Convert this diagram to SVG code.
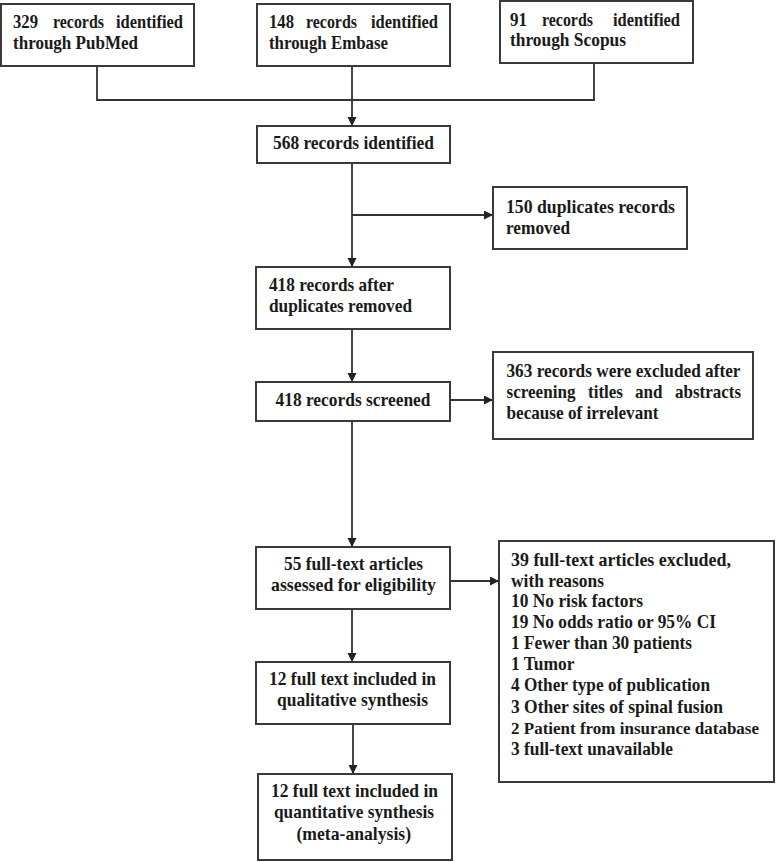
<svg xmlns="http://www.w3.org/2000/svg" width="777" height="862" viewBox="0 0 777 862">
<style>
.box{fill:#fff;stroke:#3a3a3a;stroke-width:2}
.t{font-family:"Liberation Serif","Times New Roman",serif;font-weight:bold;font-size:19px;fill:#1a1a1a}
.ln{fill:none;stroke:#333;stroke-width:1.8}
</style>
<defs>
<marker id="ah" markerUnits="userSpaceOnUse" markerWidth="10" markerHeight="10" refX="9" refY="4.5" orient="auto">
<path d="M0,0 L9,4.5 L0,9 z" fill="#222"/>
</marker>
</defs>
<rect width="777" height="862" fill="#fff"/>
<g id="connectors">
<path class="ln" d="M97,66 V100 H594 V63"/>
<path class="ln" d="M352,66 V126" marker-end="url(#ah)"/>
<path class="ln" d="M352,163 V267" marker-end="url(#ah)"/>
<path class="ln" d="M352,215 H493" marker-end="url(#ah)"/>
<path class="ln" d="M352,329 V382" marker-end="url(#ah)"/>
<path class="ln" d="M450,400 H493" marker-end="url(#ah)"/>
<path class="ln" d="M352,421 V547" marker-end="url(#ah)"/>
<path class="ln" d="M450,581 H499" marker-end="url(#ah)"/>
<path class="ln" d="M352,609 V662" marker-end="url(#ah)"/>
<path class="ln" d="M353,724 V774" marker-end="url(#ah)"/>
</g>
<g id="pubmed">
<rect class="box" x="1" y="4" width="193" height="62"/>
<text class="t" x="13" y="28" textLength="25" lengthAdjust="spacingAndGlyphs">329</text>
<text class="t" x="53" y="28" textLength="51" lengthAdjust="spacingAndGlyphs">records</text>
<text class="t" x="116" y="28" textLength="67" lengthAdjust="spacingAndGlyphs">identified</text>
<text class="t" x="13" y="48.5" textLength="125" lengthAdjust="spacingAndGlyphs">through PubMed</text>
</g>
<g id="embase">
<rect class="box" x="257" y="4" width="193" height="62"/>
<text class="t" x="269" y="28" textLength="25" lengthAdjust="spacingAndGlyphs">148</text>
<text class="t" x="306" y="28" textLength="51" lengthAdjust="spacingAndGlyphs">records</text>
<text class="t" x="371" y="28" textLength="67" lengthAdjust="spacingAndGlyphs">identified</text>
<text class="t" x="269" y="48.5" textLength="119" lengthAdjust="spacingAndGlyphs">through Embase</text>
</g>
<g id="scopus">
<rect class="box" x="500" y="1" width="193" height="62"/>
<text class="t" x="510" y="25.5" textLength="17" lengthAdjust="spacingAndGlyphs">91</text>
<text class="t" x="542" y="25.5" textLength="51" lengthAdjust="spacingAndGlyphs">records</text>
<text class="t" x="613" y="25.5" textLength="67" lengthAdjust="spacingAndGlyphs">identified</text>
<text class="t" x="510" y="46" textLength="116" lengthAdjust="spacingAndGlyphs">through Scopus</text>
</g>
<g id="identified">
<rect class="box" x="257" y="126" width="193" height="37"/>
<text class="t" x="273" y="149" textLength="161" lengthAdjust="spacingAndGlyphs">568 records identified</text>
</g>
<g id="duplicates">
<rect class="box" x="493" y="187" width="194" height="62"/>
<text class="t" x="506" y="212.5" textLength="169" lengthAdjust="spacingAndGlyphs">150 duplicates records</text>
<text class="t" x="506" y="233.5" textLength="64" lengthAdjust="spacingAndGlyphs">removed</text>
</g>
<g id="afterdup">
<rect class="box" x="256" y="267" width="194" height="62"/>
<text class="t" x="269" y="290.5" textLength="125" lengthAdjust="spacingAndGlyphs">418 records after</text>
<text class="t" x="269" y="312" textLength="143" lengthAdjust="spacingAndGlyphs">duplicates removed</text>
</g>
<g id="screened">
<rect class="box" x="256" y="382" width="194" height="39"/>
<text class="t" x="275.5" y="406" textLength="155" lengthAdjust="spacingAndGlyphs">418 records screened</text>
</g>
<g id="excluded363">
<rect class="box" x="493" y="352" width="260" height="87"/>
<text class="t" x="506.5" y="376.5" textLength="234" lengthAdjust="spacingAndGlyphs">363 records were excluded after</text>
<text class="t" x="506.5" y="398" textLength="69" lengthAdjust="spacingAndGlyphs">screening</text>
<text class="t" x="588" y="398" textLength="35" lengthAdjust="spacingAndGlyphs">titles</text>
<text class="t" x="635" y="398" textLength="27.5" lengthAdjust="spacingAndGlyphs">and</text>
<text class="t" x="675" y="398" textLength="66" lengthAdjust="spacingAndGlyphs">abstracts</text>
<text class="t" x="506.5" y="419" textLength="152" lengthAdjust="spacingAndGlyphs">because of irrelevant</text>
</g>
<g id="fulltext55">
<rect class="box" x="256" y="547" width="194" height="62"/>
<text class="t" x="284" y="570" textLength="139" lengthAdjust="spacingAndGlyphs">55 full-text articles</text>
<text class="t" x="271" y="590.5" textLength="165" lengthAdjust="spacingAndGlyphs">assessed for eligibility</text>
</g>
<g id="excluded39">
<rect class="box" x="499" y="541" width="275" height="241"/>
<text class="t" x="511" y="566" textLength="220" lengthAdjust="spacingAndGlyphs">39 full-text articles excluded,</text>
<text class="t" x="511" y="586.5" textLength="93" lengthAdjust="spacingAndGlyphs">with reasons</text>
<text class="t" x="511" y="607" textLength="132" lengthAdjust="spacingAndGlyphs">10 No risk factors</text>
<text class="t" x="511" y="628" textLength="205" lengthAdjust="spacingAndGlyphs">19 No odds ratio or 95% CI</text>
<text class="t" x="511" y="649" textLength="181" lengthAdjust="spacingAndGlyphs">1 Fewer than 30 patients</text>
<text class="t" x="511" y="670" textLength="63.5" lengthAdjust="spacingAndGlyphs">1 Tumor</text>
<text class="t" x="511" y="691" textLength="199" lengthAdjust="spacingAndGlyphs">4 Other type of publication</text>
<text class="t" x="511" y="712.5" textLength="212" lengthAdjust="spacingAndGlyphs">3 Other sites of spinal fusion</text>
<text class="t" x="511" y="733.5" style="font-size:17.5px" textLength="248" lengthAdjust="spacingAndGlyphs">2 Patient from insurance database</text>
<text class="t" x="511" y="755" textLength="162" lengthAdjust="spacingAndGlyphs">3 full-text unavailable</text>
</g>
<g id="qualitative">
<rect class="box" x="256" y="662" width="194" height="62"/>
<text class="t" x="269" y="685" textLength="167" lengthAdjust="spacingAndGlyphs">12 full text included in</text>
<text class="t" x="277" y="706" textLength="151" lengthAdjust="spacingAndGlyphs">qualitative synthesis</text>
</g>
<g id="quantitative">
<rect class="box" x="258" y="774" width="194" height="86"/>
<text class="t" x="271" y="797" textLength="167" lengthAdjust="spacingAndGlyphs">12 full text included in</text>
<text class="t" x="274" y="818" textLength="160" lengthAdjust="spacingAndGlyphs">quantitative synthesis</text>
<text class="t" x="296.5" y="840" textLength="114.5" lengthAdjust="spacingAndGlyphs">(meta-analysis)</text>
</g>
</svg>
